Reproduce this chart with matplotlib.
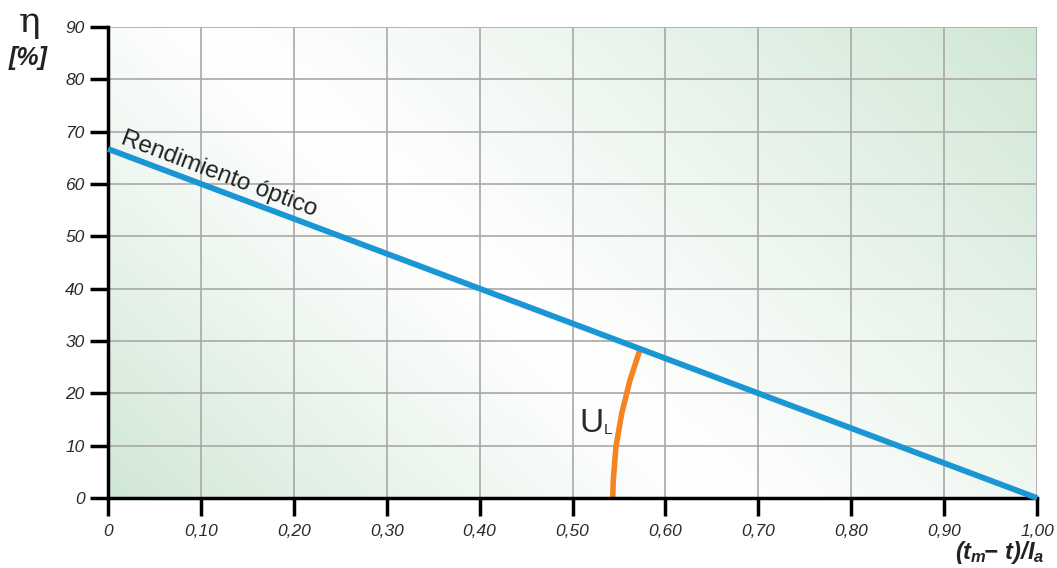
import numpy as np
import matplotlib.pyplot as plt
from matplotlib import font_manager

plt.rcParams['mathtext.fontset'] = 'custom'
plt.rcParams['mathtext.it'] = 'Liberation Sans:italic:bold'
plt.rcParams['mathtext.rm'] = 'Liberation Sans:italic:bold'
plt.rcParams['mathtext.bf'] = 'Liberation Sans:italic:bold'

# Data
x_line = [0.0, 1.0]
eta_line = [66.7, 0.0]

# U_L arc (curved marker between x-axis and the efficiency line)
ul_x = [0.5433, 0.5439, 0.5468, 0.5530, 0.5619, 0.5727]
ul_y = [0.0, 3.4, 9.8, 16.2, 22.5, 28.4]

x_ticks = [0.0, 0.1, 0.2, 0.3, 0.4, 0.5, 0.6, 0.7, 0.8, 0.9, 1.0]
x_labels = ["0", "0,10", "0,20", "0,30", "0,40", "0,50", "0,60", "0,70", "0,80", "0,90", "1,00"]
y_ticks = [0, 10, 20, 30, 40, 50, 60, 70, 80, 90]

names = {f.name for f in font_manager.fontManager.ttflist}
narrow = "Liberation Sans Narrow" if "Liberation Sans Narrow" in names else "Liberation Sans"

fig = plt.figure(figsize=(10.57, 5.68), dpi=100)
ax = fig.add_axes([108 / 1057, 70 / 568, 929 / 1057, 471 / 568])

# Background gradient: green at bottom-left and top-right, white diagonal band
W, H = 929, 471
px, py = np.meshgrid(np.arange(W) + 108, np.arange(H) + 27)
t = 0.68 * px - 0.74 * py
d = np.abs(t - 118)
w = np.where(t < 118, d / 413, d / 567)
w = np.clip(w, 0, 1) ** 1.1
green = np.array([0.815, 0.906, 0.835])
white = np.array([1.0, 1.0, 1.0])
img = white[None, None, :] * (1 - w[..., None]) + green[None, None, :] * w[..., None]
ax.imshow(img, extent=[0, 1, 0, 90], aspect="auto", origin="upper", zorder=0)

ax.set_xlim(0, 1)
ax.set_ylim(0, 90)

ax.set_xticks(x_ticks)
ax.set_xticklabels(x_labels)
ax.set_yticks(y_ticks)
ax.grid(True, color="#a8a8a8", linewidth=1.2, zorder=1)
ax.set_axisbelow(False)

for s in ["top", "right"]:
    ax.spines[s].set_visible(False)
for s in ["left", "bottom"]:
    ax.spines[s].set_linewidth(2.5)
    ax.spines[s].set_color("black")
    ax.spines[s].set_zorder(3)

ax.tick_params(axis="both", length=13, width=2.5, color="black",
               labelsize=12.5, labelcolor="#2a2a2a")
ax.tick_params(axis="x", pad=6)
ax.tick_params(axis="y", pad=4)
for lab in ax.get_xticklabels() + ax.get_yticklabels():
    lab.set_fontstyle("italic")
    lab.set_fontfamily("Liberation Sans")

# Efficiency line
ax.plot(x_line, eta_line, color="#1a96d5", linewidth=4.2, zorder=4, clip_on=False,
        solid_capstyle="butt")

# U_L arc
ax.plot(ul_x, ul_y, color="#f5831f", linewidth=4, zorder=3, solid_capstyle="butt")

u_size = 27 if narrow != "Liberation Sans" else 24
ax.text(0.5075, 12.7, "U", fontsize=u_size, color="#2a2a2a", family=narrow,
        ha="left", va="baseline", zorder=5)
ax.text(0.5335, 12.3, "L", fontsize=11, color="#2a2a2a", family=narrow,
        ha="left", va="baseline", zorder=5)

ax.text(0.013, 67.8, "Rendimiento óptico", fontsize=17.5, color="#222222",
        family="Liberation Sans", rotation=-20.6, rotation_mode="anchor",
        ha="left", va="baseline", zorder=5)

# Axis titles
fig.text(30 / 1057, 1 - 22 / 568, "η", fontsize=26, color="#222222",
         ha="center", va="center", family="DejaVu Serif")
fig.text(28 / 1057, 1 - 58 / 568, "[%]", fontsize=18, color="#222222",
         ha="center", va="center", fontweight="bold", fontstyle="italic",
         family="Liberation Sans")
fig.text(1000 / 1057, 1 - 553 / 568, r"$(t_m\!\!-\,t)/I_a$",
         fontsize=17, color="#222222", ha="center", va="center")

fig.savefig("out.png", dpi=100)
